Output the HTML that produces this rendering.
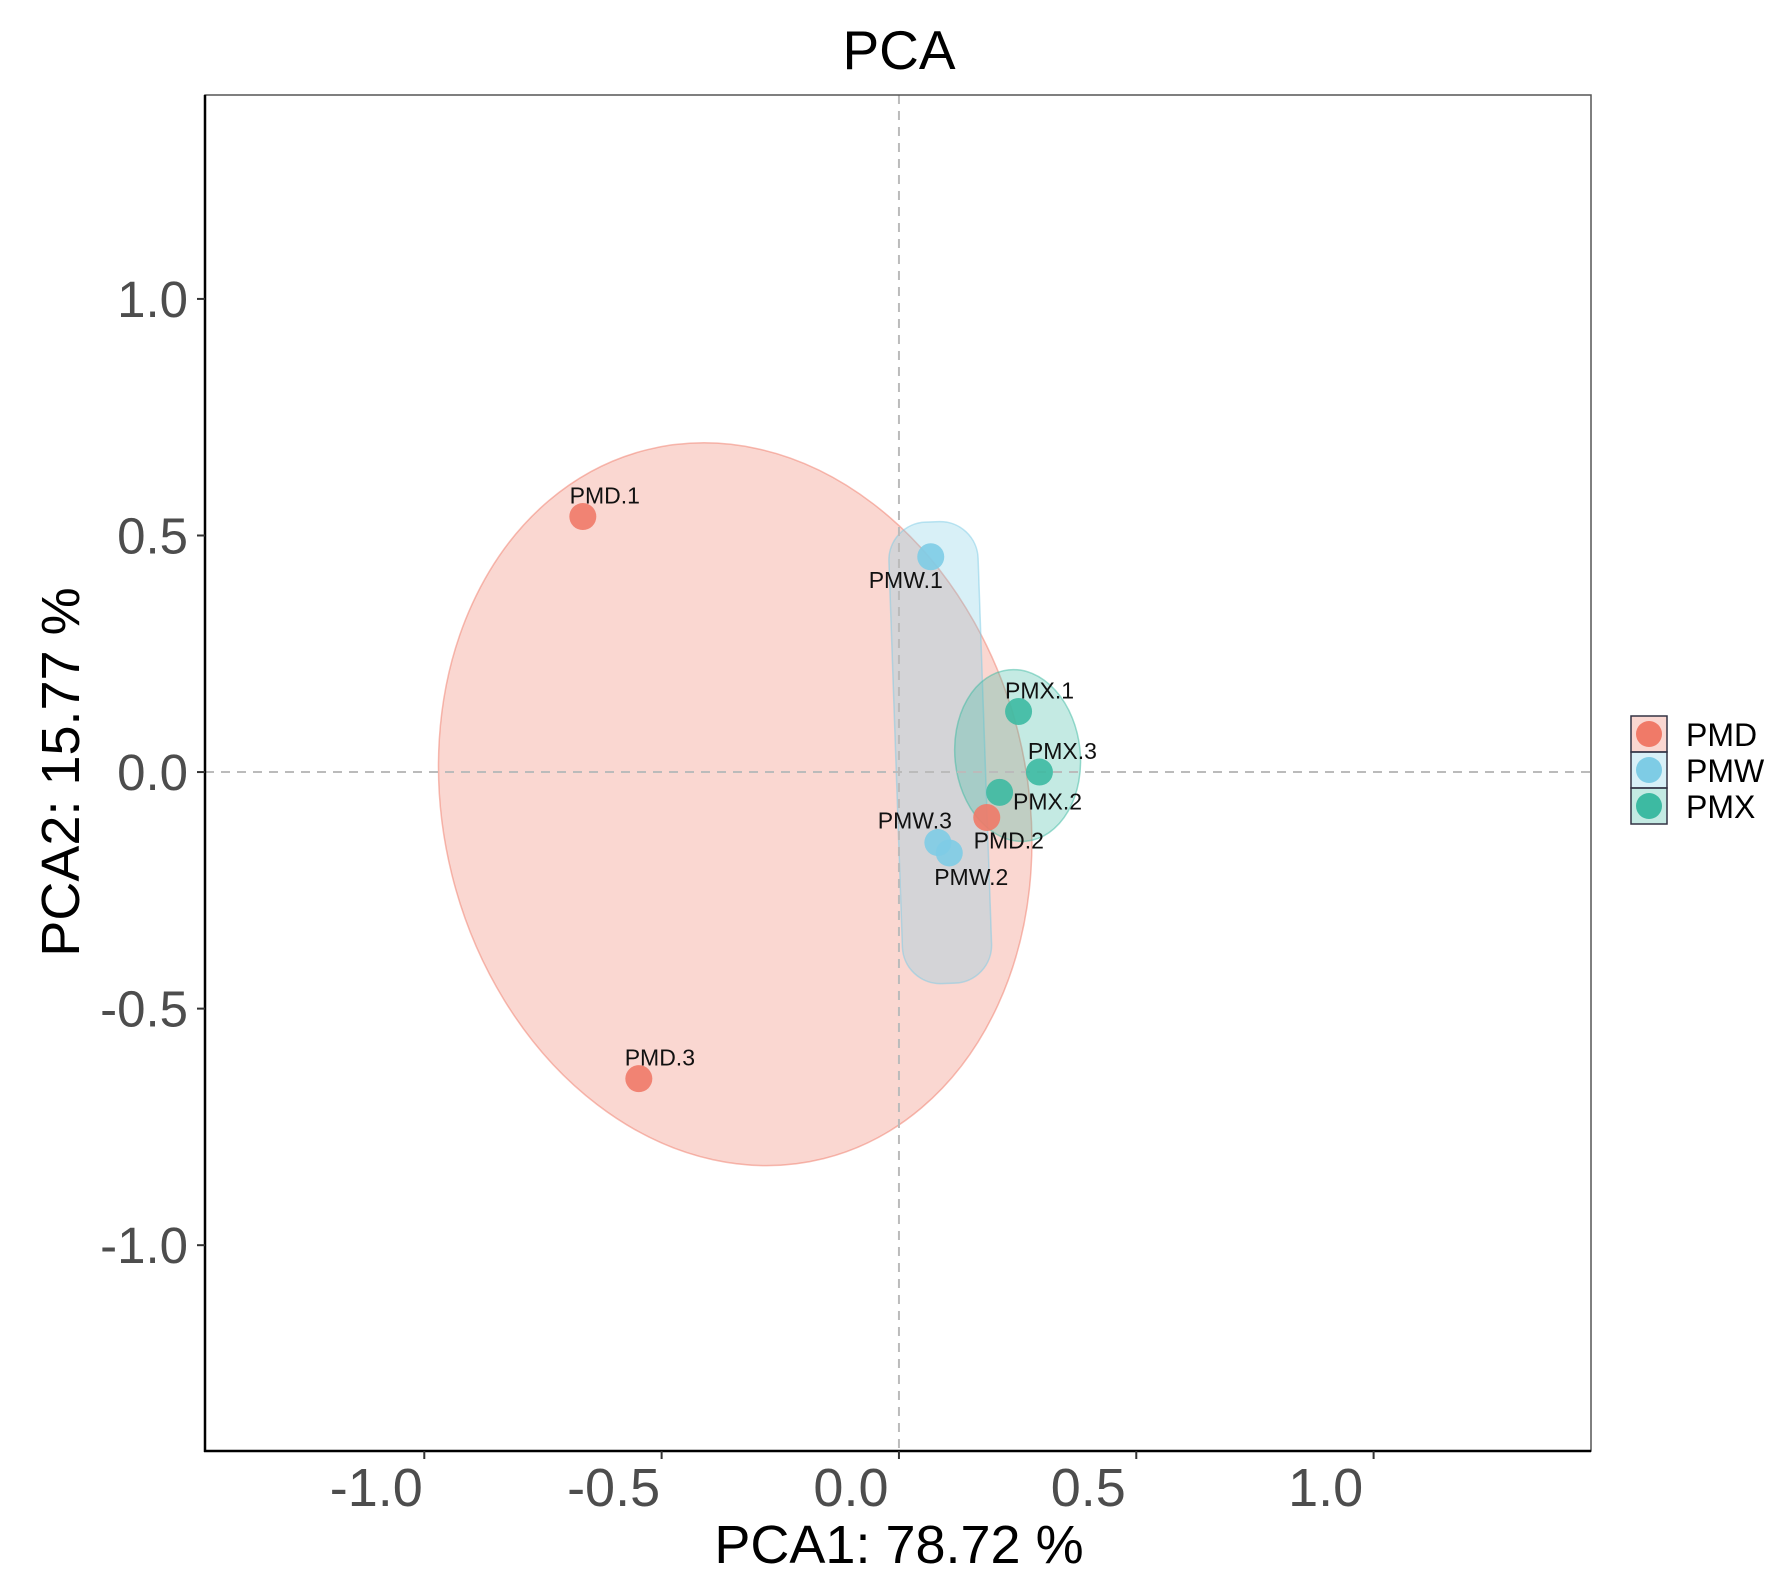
<!DOCTYPE html>
<html><head><meta charset="utf-8"><style>
html,body{margin:0;padding:0;background:#fff;}
svg{display:block;font-family:"Liberation Sans",Arial,sans-serif;}
</style></head><body>
<svg id="chart" width="1783" height="1595" viewBox="0 0 1783 1595" xmlns="http://www.w3.org/2000/svg">
<text x="899" y="69" font-size="55" text-anchor="middle" fill="#000">PCA</text>
<g id="ellipses"></g>
<g id="refs"></g>
<g id="points"></g>
<g id="axes"></g>
<text x="899" y="1563" font-size="54" text-anchor="middle" fill="#000">PCA1: 78.72 %</text>
<text transform="translate(79,772) rotate(-90)" font-size="54" text-anchor="middle" fill="#000">PCA2: 15.77 %</text>
<g id="legend"></g>
</svg>
<script>
const groups = ["PMD","PMW","PMX"];
const groupColors = ["#F07A68","#7ECCE5","#3DBAA2"];
const sampleNames = ["PMD.1","PMD.2","PMD.3","PMW.1","PMW.2","PMW.3","PMX.1","PMX.2","PMX.3"];
const sampleGroups = ["PMD","PMD","PMD","PMW","PMW","PMW","PMX","PMX","PMX"];
const pc1Values = [-0.666,0.185,-0.548,0.067,0.106,0.082,0.252,0.212,0.296];
const pc2Values = [0.540,-0.096,-0.648,0.455,-0.171,-0.149,0.128,-0.043,0.000];
const xTicks = [-1.0,-0.5,0.0,0.5,1.0];
const yTicks = [-1.0,-0.5,0.0,0.5,1.0];
const tickLabels = ["-1.0","-0.5","0.0","0.5","1.0"];
// ellipse parameters in data units: center x, center y, semi-axis x, semi-axis y, rotation deg
const ellipseCx = [-0.345,0.087,0.250];
const ellipseCy = [-0.068,0.041,0.035];
const ellipseRx = [0.615,0.094,0.132];
const ellipseRy = [0.772,0.488,0.182];
const ellipseRot = [-14,-2,-6];
const ellipseShape = ["ellipse","capsule","ellipse"];

const L=205,R=1591,T=95,B=1451;
const xMin=-1.462,xMax=1.458,yMin=-1.435,yMax=1.431;
const sx=v=>L+(v-xMin)/(xMax-xMin)*(R-L);
const sy=v=>B-(v-yMin)/(yMax-yMin)*(B-T);
const NS="http://www.w3.org/2000/svg";
function mk(tag,attrs,parent){const e=document.createElementNS(NS,tag);for(const k in attrs)e.setAttribute(k,attrs[k]);parent.appendChild(e);return e;}

const eg=document.getElementById('ellipses');
groups.forEach((g,i)=>{
  const cx=sx(ellipseCx[i]),cy=sy(ellipseCy[i]);
  const rx=sx(ellipseRx[i])-sx(0),ry=sy(0)-sy(ellipseRy[i]);
  let e;
  if(ellipseShape[i]==="capsule"){
    e=mk('rect',{x:cx-rx,y:cy-ry,width:2*rx,height:2*ry,rx:rx*0.85,ry:rx*0.85,transform:`rotate(${ellipseRot[i]} ${cx} ${cy})`,fill:groupColors[i],'fill-opacity':0.3,stroke:groupColors[i],'stroke-opacity':0.5,'stroke-width':1.5},eg);
  } else {
    e=mk('ellipse',{cx:cx,cy:cy,rx:rx,ry:ry,transform:`rotate(${ellipseRot[i]} ${cx} ${cy})`,fill:groupColors[i],'fill-opacity':0.3,stroke:groupColors[i],'stroke-opacity':0.5,'stroke-width':1.5},eg);
  }
  
  
});

const rg=document.getElementById('refs');
const vl=mk('line',{x1:sx(0),x2:sx(0),y1:T,y2:B,stroke:'#bbb','stroke-width':2,'stroke-dasharray':'9,7'},rg);


const hl=mk('line',{x1:L,x2:R,y1:sy(0),y2:sy(0),stroke:'#bbb','stroke-width':2,'stroke-dasharray':'9,7'},rg);



const labelDx=[22,22,21,-25,22,-23,21,48,23];
const labelDy=[-21,23,-21,23,24,-22,-21,9,-21];
const pg=document.getElementById('points');
sampleNames.forEach((n,i)=>{
  const c=groupColors[groups.indexOf(sampleGroups[i])];
  const x=sx(pc1Values[i]),y=sy(pc2Values[i]);
  const p=mk('circle',{cx:x,cy:y,r:13.5,fill:c,'fill-opacity':0.9},pg);
  
  
  const t=mk('text',{x:x+labelDx[i],y:y+labelDy[i]+8,'font-size':23,'text-anchor':'middle',fill:'#111'},pg);
  t.textContent=n;
  
  
});

const ag=document.getElementById('axes');
const fr=mk('rect',{x:L,y:T,width:R-L,height:B-T,fill:'none',stroke:'#555','stroke-width':1.5},ag);


const la=mk('line',{x1:L,x2:L,y1:T,y2:B+1,stroke:'#000','stroke-width':2.5},ag);


const ba=mk('line',{x1:L-1,x2:R,y1:B,y2:B,stroke:'#000','stroke-width':2.5},ag);


xTicks.forEach((v,i)=>{
  const x=sx(v);
  const tk=mk('line',{x1:x,x2:x,y1:B,y2:B+8,stroke:'#333','stroke-width':2},ag);
  
  
  const t=mk('text',{x:x-48,y:B+55,'font-size':54,'text-anchor':'middle',fill:'#4d4d4d'},ag);
  t.textContent=tickLabels[i];
  
  
});
yTicks.forEach((v,i)=>{
  const y=sy(v);
  const tk=mk('line',{x1:L-8,x2:L,y1:y,y2:y,stroke:'#333','stroke-width':2},ag);
  
  
  const t=mk('text',{x:L-17,y:y+18,'font-size':51,'text-anchor':'end',fill:'#4d4d4d'},ag);
  t.textContent=tickLabels[i];
  
  
});

const lg=document.getElementById('legend');
groups.forEach((g,i)=>{
  const y=716+i*36;
  const r=mk('rect',{x:1631,y:y,width:36,height:36,fill:groupColors[i],'fill-opacity':0.3,stroke:'#334',"stroke-width":1.5},lg);
  
  
  const c=mk('circle',{cx:1649,cy:y+18,r:13,fill:groupColors[i]},lg);
  
  
  const t=mk('text',{x:1686,y:y+30,'font-size':32,fill:'#000'},lg);
  t.textContent=g;
  
  
});
</script>
</body></html>
